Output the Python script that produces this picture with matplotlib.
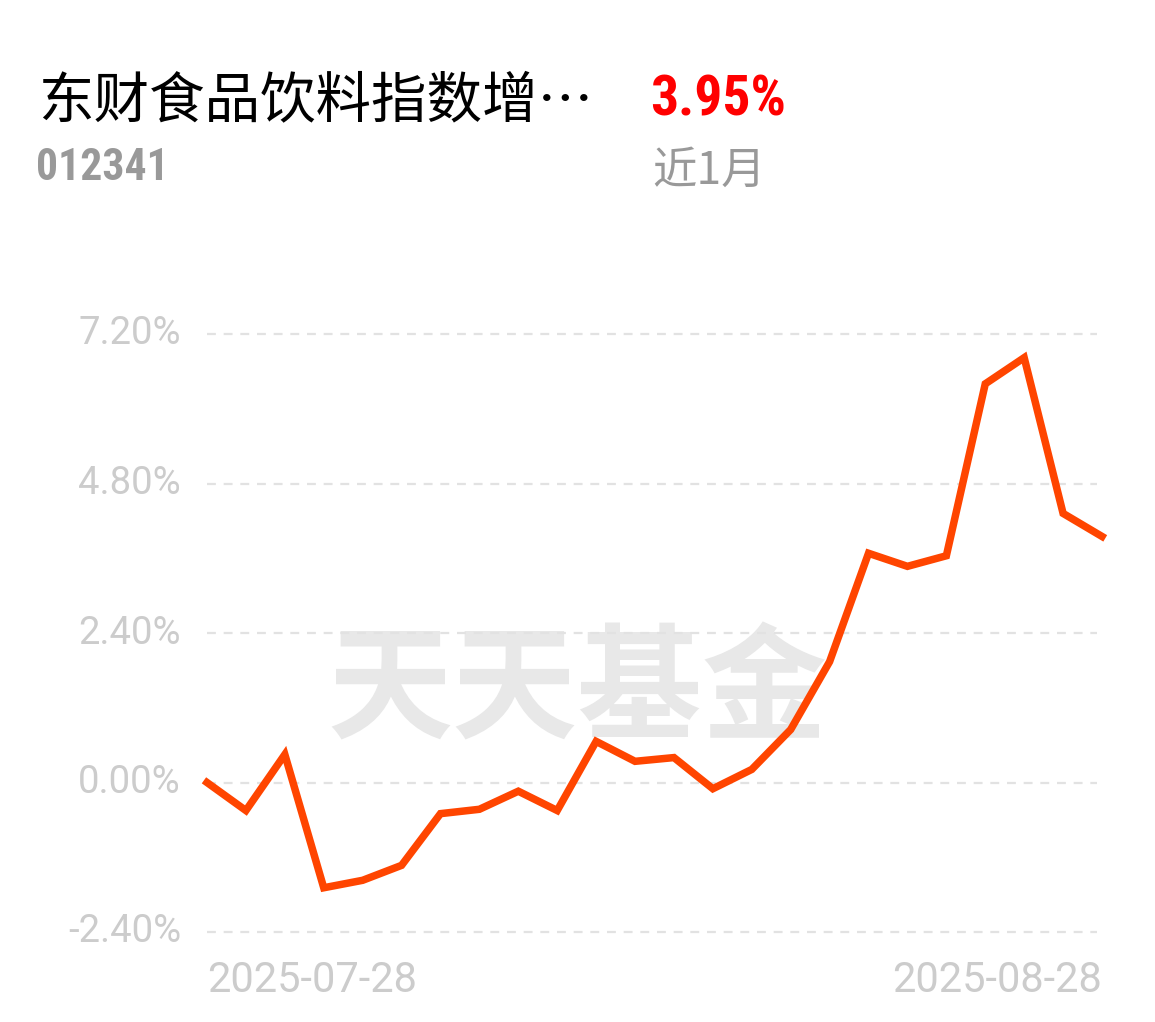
import matplotlib
matplotlib.use("Agg")
import matplotlib.pyplot as plt
from matplotlib import font_manager

# data (cumulative return, %)
values = [0.00, -0.45, 0.45, -1.69, -1.57, -1.33, -0.50, -0.43, -0.14, -0.45,
          0.66, 0.34, 0.40, -0.10, 0.21, 0.85, 1.94, 3.68, 3.47, 3.64,
          6.40, 6.82, 4.32, 3.95]
y_ticks = [-2.40, 0.00, 2.40, 4.80, 7.20]
x_labels = ["2025-07-28", "2025-08-28"]
title = "东财食品饮料指数增…"
code = "012341"
ret_text = "3.95%"
period = "近1月"
watermark = "天天基金"

installed = {f.name for f in font_manager.fontManager.ttflist}
narrow = next((n for n in ["Roboto Condensed", "Liberation Sans Narrow", "Roboto"] if n in installed), "DejaVu Sans")
cjk = ["Noto Sans CJK SC", "DejaVu Sans"]

W, H = 1155, 1022
fig = plt.figure(figsize=(W / 100, H / 100), dpi=100)
fig.patch.set_facecolor("white")

x0, x1 = 207, 1102
y_top, y_bot = 334, 932
ax = fig.add_axes([x0 / W, 1 - y_bot / H, (x1 - x0) / W, (y_bot - y_top) / H])
ax.set_xlim(0, len(values) - 1)
ax.set_ylim(y_ticks[0], y_ticks[-1])
ax.axis("off")

# dashed grid
for t in y_ticks:
    ax.plot([0, len(values) - 1.13], [t, t], color="#e2e2e2", lw=1.6,
            dashes=(4, 3.5), zorder=1, clip_on=False)
    ax.text(-0.67, t, f"{t:.2f}%", ha="right", va="center", fontsize=27.5,
            color="#cccccc", family="Roboto")

# watermark
ax.text(9.53, 1.43, watermark, ha="center", va="center", fontsize=90,
        color="#e8e8e8", family=cjk, fontweight="bold", zorder=0)

ax.plot(range(len(values)), values, color="#ff4500", lw=5.4,
        solid_joinstyle="miter", zorder=3, clip_on=False)

# date labels
ax.text(0, -2.85, x_labels[0], ha="left", va="top", fontsize=30,
        color="#cccccc", family="Roboto")
ax.text(len(values) - 1, -2.85, x_labels[1], ha="right", va="top", fontsize=30,
        color="#cccccc", family="Roboto")

# header
fig.text(38 / W, 1 - 102 / H, title, ha="left", va="center", fontsize=40,
         color="black", family=cjk)
fig.text(36 / W, 1 - 168 / H, code, ha="left", va="center", fontsize=31.5,
         color="#999999", family=narrow, fontweight="bold")
fig.text(650 / W, 1 - 101 / H, ret_text, ha="left", va="center", fontsize=40,
         color="#ff0000", family=narrow, fontweight="bold")
fig.text(652 / W, 1 - 171 / H, period, ha="left", va="center", fontsize=32,
         color="#999999", family=cjk)

fig.savefig("out.png", dpi=100, facecolor="white")
